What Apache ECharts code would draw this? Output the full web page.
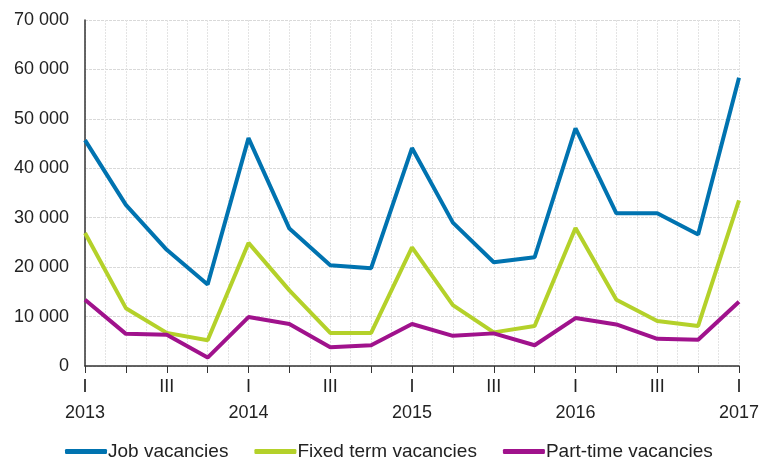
<!DOCTYPE html>
<html>
<head>
<meta charset="utf-8">
<script src="https://cdn.jsdelivr.net/npm/echarts@6/dist/echarts.min.js"></script>
<style>
  html, body { margin: 0; padding: 0; background: #fff; }
  #chart { width: 763px; height: 464px; }
</style>
</head>
<body>
<div id="chart"></div>
<script>
// quarters 2013 I .. 2017 I
const quarterLabels = ["I", "", "III", "", "I", "", "III", "", "I", "", "III", "", "I", "", "III", "", "I"];
const yearLabels = ["2013", "", "", "", "2014", "", "", "", "2015", "", "", "", "2016", "", "", "", "2017"];

const jobVacancies = [45700, 32600, 23500, 16500, 46100, 27800, 20400, 19800, 44100, 29000, 21000, 22000, 48100, 30900, 30900, 26600, 58300];
const fixedTerm = [26900, 11700, 6700, 5200, 24900, 15300, 6700, 6700, 24000, 12300, 6800, 8100, 27900, 13400, 9100, 8100, 33500];
const partTime = [13400, 6500, 6300, 1700, 9900, 8500, 3800, 4200, 8500, 6100, 6600, 4200, 9700, 8400, 5500, 5300, 13000];

const seriesNames = ["Job vacancies", "Fixed term vacancies", "Part-time vacancies"];
const colors = ["#0073b0", "#b4d12a", "#a0128c"];

const toPoints = (arr) => arr.map((v, i) => [i, v]);

// thousands separated by a space
const fmt = (v) => {
  if (v === 0) return "0";
  const s = String(v);
  return s.slice(0, s.length - 3) + " " + s.slice(-3);
};

const chart = echarts.init(document.getElementById("chart"));

chart.setOption({
  animation: false,
  textStyle: { fontFamily: "Liberation Sans, Arial, sans-serif" },
  grid: { left: 85, right: 24, top: 20, bottom: 98 },
  xAxis: {
    type: "value",
    min: 0,
    max: quarterLabels.length - 1,
    interval: 1,
    axisLine: { onZero: false, lineStyle: { color: "#333", width: 1.5 } },
    axisTick: { show: true, length: 7, lineStyle: { color: "#333" } },
    minorTick: { show: false, splitNumber: 2 },
    minorSplitLine: { show: true, lineStyle: { color: "#e4e4e4", type: [2, 1] } },
    splitLine: { show: true, lineStyle: { color: "#e4e4e4", type: [2, 1] } },
    axisLabel: {
      color: "#222",
      fontSize: 18,
      margin: 8,
      lineHeight: 26,
      formatter: (v) => {
        const q = quarterLabels[v] || "";
        const y = yearLabels[v] || "";
        return y ? q + "\n" + y : q;
      }
    }
  },
  yAxis: {
    type: "value",
    min: 0,
    max: 70000,
    interval: 10000,
    axisLine: { show: true, lineStyle: { color: "#333", width: 1.5 } },
    axisTick: { show: false },
    splitLine: { lineStyle: { color: "#d9d9d9", type: [3, 1] } },
    axisLabel: { color: "#222", fontSize: 18, margin: 16, formatter: fmt }
  },
  legend: {
    left: 60,
    top: 437,
    itemWidth: 42,
    itemHeight: 5,
    itemGap: 26,
    icon: "roundRect",
    textStyle: { color: "#222", fontSize: 19, padding: [0, 0, 0, -4] },
    data: seriesNames
  },
  series: [
    { name: seriesNames[0], type: "line", data: toPoints(jobVacancies), symbol: "none", lineStyle: { width: 4, color: colors[0] }, itemStyle: { color: colors[0] } },
    { name: seriesNames[1], type: "line", data: toPoints(fixedTerm), symbol: "none", lineStyle: { width: 4, color: colors[1] }, itemStyle: { color: colors[1] } },
    { name: seriesNames[2], type: "line", data: toPoints(partTime), symbol: "none", lineStyle: { width: 4, color: colors[2] }, itemStyle: { color: colors[2] } }
  ]
});
</script>
</body>
</html>
